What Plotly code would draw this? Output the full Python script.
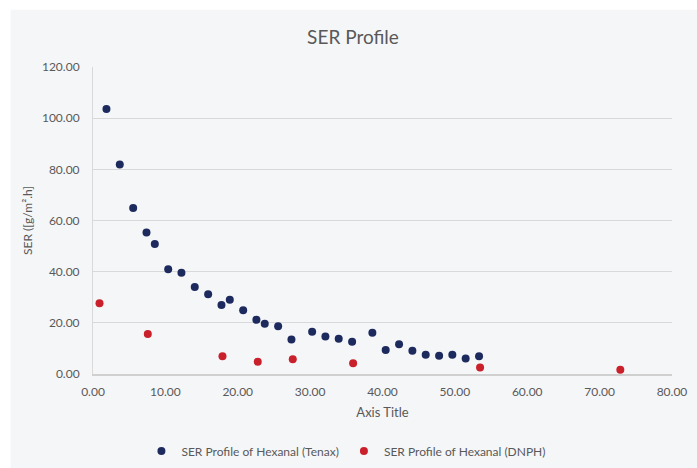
import plotly.graph_objects as go

tenax_x = [1.86, 3.70, 5.55, 7.39, 8.54, 10.39, 12.22, 14.06, 15.91, 17.75, 18.90, 20.75,
           22.58, 23.73, 25.58, 27.42, 30.28, 32.11, 33.95, 35.80, 38.60, 40.44, 42.29,
           44.13, 45.97, 47.82, 49.65, 51.49, 53.34]
tenax_y = [103.6, 81.9, 64.9, 55.3, 50.8, 40.9, 39.6, 34.0, 31.2, 27.0, 29.0, 24.9,
           21.2, 19.6, 18.7, 13.5, 16.5, 14.7, 13.8, 12.6, 16.1, 9.4, 11.6,
           9.1, 7.5, 7.1, 7.5, 6.1, 6.9]
dnph_x = [0.90, 7.57, 17.89, 22.76, 27.60, 35.94, 53.48, 72.86]
dnph_y = [27.7, 15.6, 6.9, 4.8, 5.8, 4.2, 2.5, 1.7]

FONT = "Lato"
TXT = "#595959"

fig = go.Figure()
fig.add_trace(go.Scatter(x=tenax_x, y=tenax_y, mode="markers",
                         name="SER Profile of Hexanal (Tenax)",
                         marker=dict(color="#1d2a5e", size=8)))
fig.add_trace(go.Scatter(x=dnph_x, y=dnph_y, mode="markers",
                         name="SER Profile of Hexanal (DNPH)",
                         marker=dict(color="#c9202b", size=8)))

W, H = 697, 468
L, R, T, B = 92.5, 25.3, 67.3, 94
pw = W - L - R
ph = H - T - B
fig.add_shape(type="rect", xref="paper", yref="paper", layer="below",
              x0=(10 - L) / pw, x1=(W - L) / pw,
              y0=(H - B - H) / ph, y1=(H - B - 10) / ph,
              fillcolor="#f5f6f8", line=dict(width=0))

fig.update_layout(
    width=W, height=H,
    margin=dict(l=L, r=R, t=T, b=B, autoexpand=False),
    paper_bgcolor="white", plot_bgcolor="#f5f6f8",
    font=dict(family=FONT, color=TXT, size=12),
    title=dict(text="SER Profile", x=353 / W, xref="container", xanchor="center",
               y=1 - 37 / H, yanchor="middle",
               font=dict(size=19, color=TXT, family=FONT)),
    xaxis=dict(range=[0, 80], dtick=10, tickformat=".2f", showgrid=False,
               showline=True, linecolor="#d0d0d0", linewidth=1.5, zeroline=False,
               ticks="", ticklabelstandoff=6, tickfont=dict(size=12, color=TXT),
               title=dict(text="Axis Title", font=dict(size=13, color=TXT), standoff=10)),
    yaxis=dict(range=[0, 120], dtick=20, tickformat=".2f", showgrid=True,
               gridcolor="#d9d9d9", gridwidth=1, showline=True, linecolor="#d9d9d9",
               zeroline=False, ticks="", ticklabelstandoff=10,
               tickfont=dict(size=12, color=TXT),
               title=dict(text="SER ([g/m\u00b2.h]", font=dict(size=12, color=TXT), standoff=6)),
    legend=dict(orientation="h", x=(346 - L) / pw, xanchor="center",
                y=-(451 - (H - B)) / ph, yanchor="middle",
                font=dict(size=12, color=TXT), bgcolor="rgba(0,0,0,0)",
                itemwidth=30, tracegroupgap=0),
    showlegend=True,
)
fig.write_html("out.html", config={"displayModeBar": False},
               post_script="document.body.style.margin='0';")
